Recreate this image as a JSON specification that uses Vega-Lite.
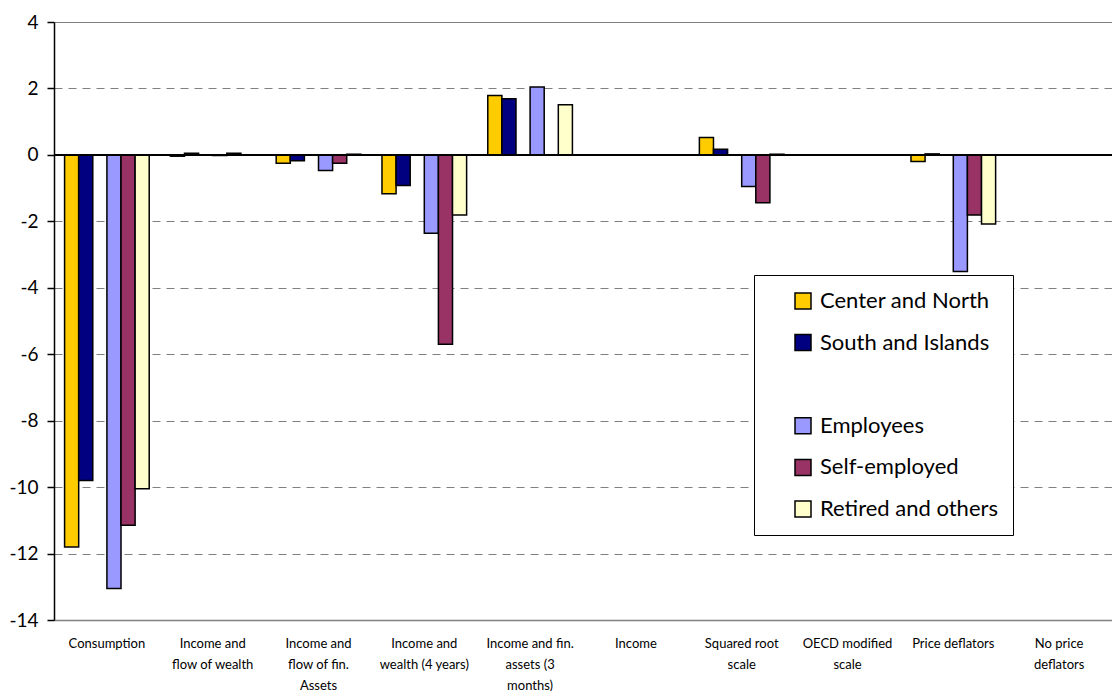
{
  "$schema": "https://vega.github.io/schema/vega-lite/v6.json",
  "width": 1058,
  "height": 598,
  "autosize": "none",
  "padding": {"left": 54, "top": 22, "right": 0, "bottom": 71},
  "background": "white",
  "config": {"view": {"stroke": null}, "font": "Lato"},
  "data": {
    "values": [
      {"category": "Consumption", "series": "Center and North", "value": -11.8},
      {"category": "Consumption", "series": "South and Islands", "value": -9.8},
      {"category": "Consumption", "series": "Employees", "value": -13.05},
      {"category": "Consumption", "series": "Self-employed", "value": -11.15},
      {"category": "Consumption", "series": "Retired and others", "value": -10.05},
      {"category": "Income and flow of wealth", "series": "Center and North", "value": -0.04},
      {"category": "Income and flow of wealth", "series": "South and Islands", "value": 0.05},
      {"category": "Income and flow of wealth", "series": "Employees", "value": -0.02},
      {"category": "Income and flow of wealth", "series": "Self-employed", "value": 0.05},
      {"category": "Income and flow of wealth", "series": "Retired and others", "value": 0},
      {"category": "Income and flow of fin. Assets", "series": "Center and North", "value": -0.25},
      {"category": "Income and flow of fin. Assets", "series": "South and Islands", "value": -0.18},
      {"category": "Income and flow of fin. Assets", "series": "Employees", "value": -0.47},
      {"category": "Income and flow of fin. Assets", "series": "Self-employed", "value": -0.25},
      {"category": "Income and flow of fin. Assets", "series": "Retired and others", "value": 0.02},
      {"category": "Income and wealth (4 years)", "series": "Center and North", "value": -1.17},
      {"category": "Income and wealth (4 years)", "series": "South and Islands", "value": -0.92},
      {"category": "Income and wealth (4 years)", "series": "Employees", "value": -2.36},
      {"category": "Income and wealth (4 years)", "series": "Self-employed", "value": -5.7},
      {"category": "Income and wealth (4 years)", "series": "Retired and others", "value": -1.81},
      {"category": "Income and fin. assets (3 months)", "series": "Center and North", "value": 1.79},
      {"category": "Income and fin. assets (3 months)", "series": "South and Islands", "value": 1.69},
      {"category": "Income and fin. assets (3 months)", "series": "Employees", "value": 2.04},
      {"category": "Income and fin. assets (3 months)", "series": "Self-employed", "value": 0},
      {"category": "Income and fin. assets (3 months)", "series": "Retired and others", "value": 1.51},
      {"category": "Income", "series": "Center and North", "value": 0},
      {"category": "Income", "series": "South and Islands", "value": 0},
      {"category": "Income", "series": "Employees", "value": 0},
      {"category": "Income", "series": "Self-employed", "value": 0},
      {"category": "Income", "series": "Retired and others", "value": 0},
      {"category": "Squared root scale", "series": "Center and North", "value": 0.52},
      {"category": "Squared root scale", "series": "South and Islands", "value": 0.17},
      {"category": "Squared root scale", "series": "Employees", "value": -0.95},
      {"category": "Squared root scale", "series": "Self-employed", "value": -1.44},
      {"category": "Squared root scale", "series": "Retired and others", "value": 0.02},
      {"category": "OECD modified scale", "series": "Center and North", "value": 0},
      {"category": "OECD modified scale", "series": "South and Islands", "value": 0},
      {"category": "OECD modified scale", "series": "Employees", "value": 0},
      {"category": "OECD modified scale", "series": "Self-employed", "value": 0},
      {"category": "OECD modified scale", "series": "Retired and others", "value": 0},
      {"category": "Price deflators", "series": "Center and North", "value": -0.2},
      {"category": "Price deflators", "series": "South and Islands", "value": 0.03},
      {"category": "Price deflators", "series": "Employees", "value": -3.51},
      {"category": "Price deflators", "series": "Self-employed", "value": -1.81},
      {"category": "Price deflators", "series": "Retired and others", "value": -2.08},
      {"category": "No price deflators", "series": "Center and North", "value": 0},
      {"category": "No price deflators", "series": "South and Islands", "value": 0},
      {"category": "No price deflators", "series": "Employees", "value": 0},
      {"category": "No price deflators", "series": "Self-employed", "value": 0},
      {"category": "No price deflators", "series": "Retired and others", "value": 0}
    ]
  },
  "layer": [
    {
      "mark": {"type": "bar", "strokeWidth": 1.5},
      "encoding": {
        "x": {
          "field": "category",
          "type": "nominal",
          "sort": ["Consumption", "Income and flow of wealth", "Income and flow of fin. Assets", "Income and wealth (4 years)", "Income and fin. assets (3 months)", "Income", "Squared root scale", "OECD modified scale", "Price deflators", "No price deflators"],
          "scale": {"paddingInner": 0.2, "paddingOuter": 0.1},
          "axis": {
            "title": null,
            "ticks": false,
            "labelAngle": 0,
            "labelFontSize": 13,
            "labelColor": "black",
            "labelPadding": 17,
            "labelBaseline": "top",
            "labelLineHeight": 21,
            "labelLimit": 200,
            "domainColor": "#808080",
            "domainWidth": 1.5,
            "labelExpr": "datum.value == 'Income and flow of wealth' ? ['Income and', 'flow of wealth'] : datum.value == 'Income and flow of fin. Assets' ? ['Income and', 'flow of fin.', 'Assets'] : datum.value == 'Income and wealth (4 years)' ? ['Income and', 'wealth (4 years)'] : datum.value == 'Income and fin. assets (3 months)' ? ['Income and fin.', 'assets (3', 'months)'] : datum.value == 'Squared root scale' ? ['Squared root', 'scale'] : datum.value == 'OECD modified scale' ? ['OECD modified', 'scale'] : datum.value == 'No price deflators' ? ['No price', 'deflators'] : datum.label"
          }
        },
        "xOffset": {
          "field": "series",
          "type": "nominal",
          "scale": {"domain": ["Center and North", "South and Islands", " ", "Employees", "Self-employed", "Retired and others"], "paddingInner": 0, "paddingOuter": 0}
        },
        "y": {
          "field": "value",
          "type": "quantitative",
          "scale": {"domain": [-14, 4], "nice": false, "zero": false},
          "axis": {
            "title": null,
            "values": [-14, -12, -10, -8, -6, -4, -2, 0, 2, 4],
            "labelExpr": "'' + datum.value",
            "grid": true,
            "gridColor": "#808080",
            "gridWidth": 1.2,
            "gridDash": {"condition": {"test": "datum.value == 4 || datum.value == -14", "value": []}, "value": [8, 6]},
            "domainColor": "black",
            "domainWidth": 1.5,
            "tickColor": "black",
            "tickWidth": 1.5,
            "tickSize": 7,
            "labelFontSize": 19,
            "labelColor": "black",
            "labelPadding": 9
          }
        },
        "stroke": {
          "field": "series",
          "type": "nominal",
          "scale": {
            "domain": ["Center and North", "South and Islands", " ", "Employees", "Self-employed", "Retired and others"],
            "range": ["black", "black", "transparent", "black", "black", "black"]
          },
          "legend": {}
        },
        "color": {
          "field": "series",
          "type": "nominal",
          "scale": {
            "domain": ["Center and North", "South and Islands", " ", "Employees", "Self-employed", "Retired and others"],
            "range": ["#FFCC00", "#000080", "transparent", "#9999FF", "#993366", "#FFFFCC"]
          },
          "legend": {
            "title": null,
            "orient": "none",
            "legendX": 700,
            "legendY": 253,
            "padding": 15,
            "fillColor": "white",
            "strokeColor": "black",
            "labelFontSize": 22,
            "labelColor": "black",
            "labelLimit": 400,
            "labelOffset": 6,
            "symbolType": "square",
            "symbolSize": 256,
            "symbolOpacity": 1,
            "symbolOffset": 23,
            "symbolStrokeWidth": 1.5,
            "rowPadding": 19.6
          }
        }
      }
    },
    {
      "mark": {"type": "rule", "color": "black", "strokeWidth": 2},
      "encoding": {"y": {"datum": 0}}
    }
  ]
}
